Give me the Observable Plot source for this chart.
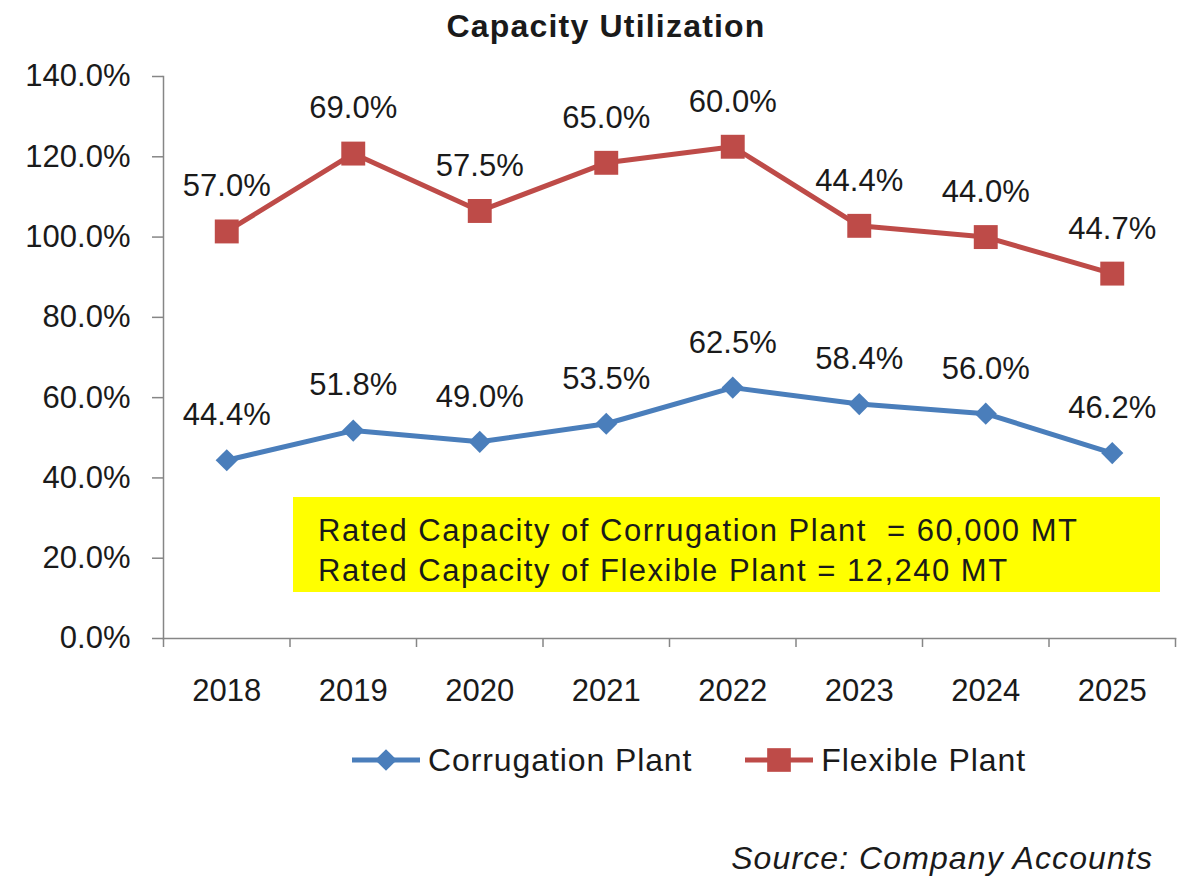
<!DOCTYPE html>
<html>
<head>
<meta charset="utf-8">
<script src="https://cdn.jsdelivr.net/npm/d3@7"></script>
<script src="https://cdn.jsdelivr.net/npm/@observablehq/plot@0.6"></script>
<style>
  body { margin: 0; background: #fff; font-family: "Liberation Sans", Arial, sans-serif; color: #1a1a1a; }
  #wrap { position: relative; width: 1200px; height: 885px; overflow: hidden; background: #fff; }
  #title { position: absolute; left: 0; top: 0; width: 1212px; text-align: center; font-weight: bold; font-size: 32px; line-height: 52px; letter-spacing: 1.2px; }
  #chart { position: absolute; left: 0; top: 50px; }
  #note { position: absolute; left: 293px; top: 497px; width: 867px; height: 95px; background: #ffff00; box-sizing: border-box; padding: 14px 0 0 25px; font-size: 31px; line-height: 40px; white-space: pre; letter-spacing: 1.5px; }
  #legend { position: absolute; left: 352px; top: 740px; height: 40px; display: flex; align-items: center; font-size: 32px; letter-spacing: 0.9px; }
  #source { position: absolute; right: 47px; top: 836px; font-size: 32px; font-style: italic; line-height: 44px; letter-spacing: 1.1px; }
</style>
</head>
<body>
<div id="wrap">
  <div id="title"></div>
  <div id="chart"></div>
  <div id="note"></div>
  <div id="legend"></div>
  <div id="source"></div>
</div>
<script>
// ---- data ----
const years = [2018, 2019, 2020, 2021, 2022, 2023, 2024, 2025];
const corrugation = [0.444, 0.518, 0.490, 0.535, 0.625, 0.584, 0.560, 0.462];
const flexible = [0.570, 0.690, 0.575, 0.650, 0.600, 0.444, 0.440, 0.447];
const plants = ["Corrugation Plant", "Flexible Plant"];
const yTicks = [0, 0.2, 0.4, 0.6, 0.8, 1.0, 1.2, 1.4];
const titleText = "Capacity Utilization";
const noteLines = ["Rated Capacity of Corrugation Plant  = 60,000 MT", "Rated Capacity of Flexible Plant = 12,240 MT"];
const sourceText = "Source: Company Accounts";

// ---- styles ----
const colors = ["#4a7ebb", "#be4b48"];
const symbols = ["diamond2", "square"];
const axisGray = "#868686";
const textColor = "#1a1a1a";

const rows = [
  ...years.map((year, i) => ({year, plant: plants[0], value: corrugation[i]})),
  ...years.map((year, i) => ({year, plant: plants[1], value: flexible[i]}))
];
const boundaries = [...years.map(y => y - 0.5), years[years.length - 1] + 0.5];
const pct = d3.format(".1%");
const stack = (o) => Plot.stackY2({x: "year", y: "value", z: "plant", ...o});

const chart = Plot.plot({
  width: 1200,
  height: 670,
  marginTop: 26,
  marginBottom: 82,
  marginLeft: 163,
  marginRight: 25,
  x: {type: "linear", domain: [boundaries[0], boundaries[boundaries.length - 1]], label: null},
  y: {domain: [0, 1.4], label: null},
  color: {domain: plants, range: colors},
  symbol: {domain: plants, range: symbols},
  r: {type: "identity"},
  style: {fontFamily: '"Liberation Sans", Arial, sans-serif', fontSize: "31px", color: textColor, background: "#fff", overflow: "visible"},
  marks: [
    Plot.axisY({ticks: yTicks, tickFormat: pct, tickSize: 11, tickPadding: 22, stroke: axisGray, strokeWidth: 1.5, strokeOpacity: 1, fill: textColor, fontSize: 31, label: null}),
    Plot.axisX({ticks: boundaries, tickFormat: () => "", tickSize: 9, stroke: axisGray, strokeWidth: 1.5, strokeOpacity: 1, label: null}),
    Plot.axisX({ticks: years, tickFormat: d => String(d), tickSize: 0, tickPadding: 40, fill: textColor, fontSize: 31, label: null}),
    Plot.frame({anchor: "left", stroke: axisGray, strokeWidth: 1.5}),
    Plot.frame({anchor: "bottom", stroke: axisGray, strokeWidth: 1.5}),
    Plot.lineY(rows, stack({stroke: "plant", strokeWidth: 5})),
    Plot.dot(rows, stack({fill: "plant", symbol: "plant", r: d => d.plant === plants[0] ? 10 : 13.5, stroke: "none"})),
    Plot.text(rows, stack({text: d => pct(d.value), dy: -45, fontSize: 31, fill: textColor}))
  ]
});
document.getElementById("chart").appendChild(chart);

document.getElementById("title").textContent = titleText;
document.getElementById("note").textContent = noteLines.join("\n");
document.getElementById("source").textContent = sourceText;

// ---- legend ----
const legend = d3.select("#legend");
plants.forEach((p, i) => {
  const item = legend.append("div")
    .style("display", "flex").style("align-items", "center")
    .style("margin-right", i === 0 ? "53px" : "0");
  const sw = item.append("svg").attr("width", 68).attr("height", 30);
  sw.append("line").attr("x1", 0).attr("x2", 68).attr("y1", 15).attr("y2", 15)
    .attr("stroke", colors[i]).attr("stroke-width", 5);
  sw.append("path").attr("transform", "translate(34,15)")
    .attr("d", d3.symbol(i === 0 ? d3.symbolDiamond2 : d3.symbolSquare, i === 0 ? 300 : 560)())
    .attr("fill", colors[i]);
  item.append("span").text(p).style("margin-left", "8px");
});
</script>
</body>
</html>
